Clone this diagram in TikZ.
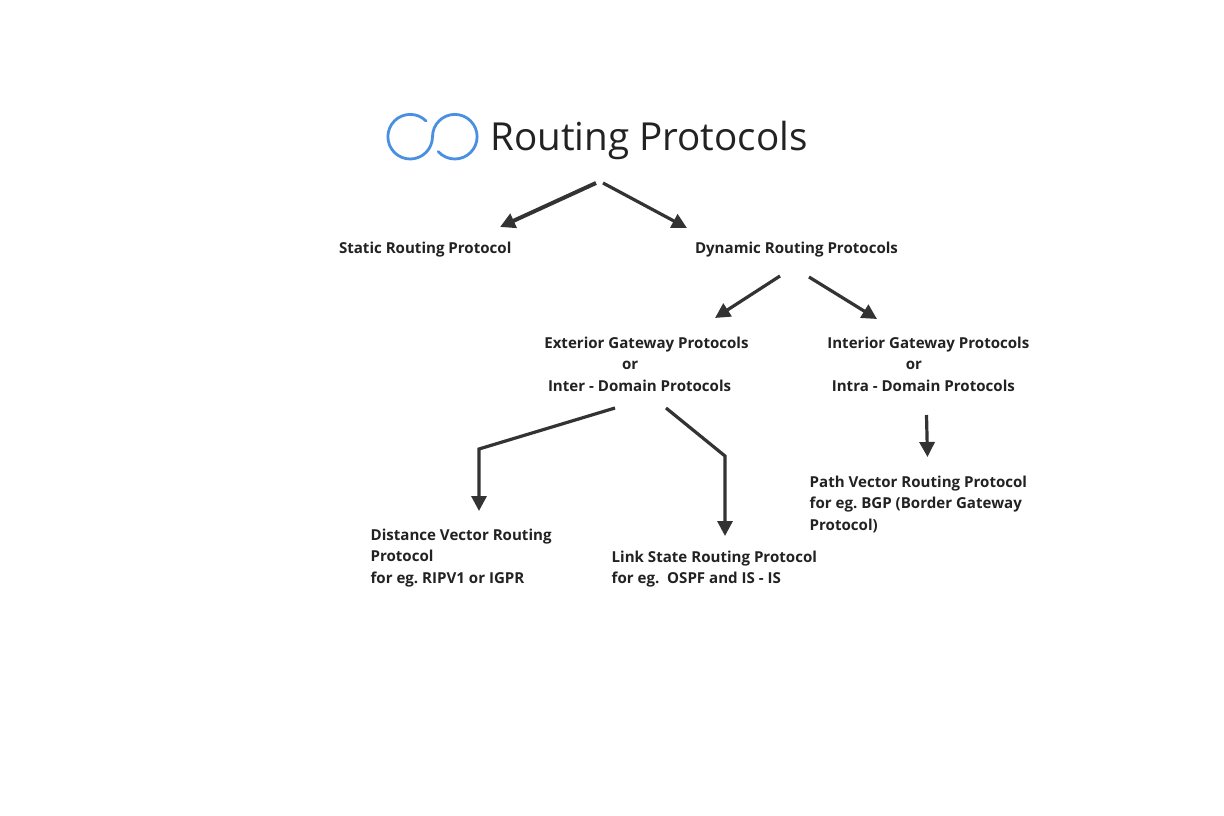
\documentclass[tikz,border=0pt]{standalone}
\usepackage{fontspec}
\setmainfont{Open Sans}
\usetikzlibrary{arrows.meta}
\definecolor{ink}{HTML}{333333}
\definecolor{txt}{HTML}{222222}
\definecolor{ringblue}{HTML}{4A90E2}
\tikzset{
  px/.style={x=1pt,y=-1pt},
  lbl/.style={inner sep=0pt,outer sep=0pt,text=txt,font=\frenchspacing\fontsize{15.08pt}{21.5pt}\selectfont\bfseries,anchor=north west,align=left},
  link/.style={draw=ink,line width=3.2pt,-{Triangle[length=15pt,width=15pt]}},
}
\begin{document}
\begin{tikzpicture}[px]
\useasboundingbox (0,0) rectangle (1224,816);
\path[fill=white] (0,0) rectangle (1224,816);
% logo: one stroke running round both rings
\draw[ringblue,line width=2.8pt,line cap=round] (425.97,120.93)
  arc[start angle=-45,end angle=-360,radius=22.3]
  arc[start angle=180,end angle=498,radius=22.3];
\node[inner sep=0pt,text=txt,font=\fontsize{38.6pt}{44pt}\selectfont,anchor=west] (title) at (490,140.5) {Routing Protocols};
\node[lbl] (static) at (339,242) {Static Routing Protocol};
\node[lbl] (dynamic) at (695,242) {Dynamic Routing Protocols};
\node[lbl] (ext) at (544.3,337) {Exterior Gateway Protocols\\\hspace*{77.7pt}or\\\hspace*{3.7pt}Inter - Domain Protocols};
\node[lbl] (int) at (827.3,337) {Interior Gateway Protocols\\\hspace*{78.5pt}or\\\hspace*{4.5pt}Intra - Domain Protocols};
\node[lbl] (dv) at (370.6,529) {Distance Vector Routing\\Protocol\\for eg. RIPV1 or IGPR};
\node[lbl] (ls) at (611.7,551) {Link State Routing Protocol\\for eg.\ \ OSPF and IS - IS};
\node[lbl] (pv) at (809.7,476) {Path Vector Routing Protocol\\for eg. BGP (Border Gateway\\Protocol)};
\coordinate (t1) at (596,183);
\coordinate (t2) at (603,183);
\coordinate (d1) at (780,276);
\coordinate (d2) at (809,277);
\coordinate (e1) at (615,408);
\coordinate (e2) at (666,408);
\coordinate (i1) at (926.5,415);
\draw[link,line width=4pt] (t1) -- (500,227);
\draw[link] (t2) -- (687,228);
\draw[link] (d1) -- (715,318);
\draw[link] (d2) -- (877,319);
\draw[link] (e1) -- (479,449) -- (479,511);
\draw[link] (e2) -- (725,456) -- (725,536);
\draw[link] (i1) -- (927.5,457);
\end{tikzpicture}
\end{document}
